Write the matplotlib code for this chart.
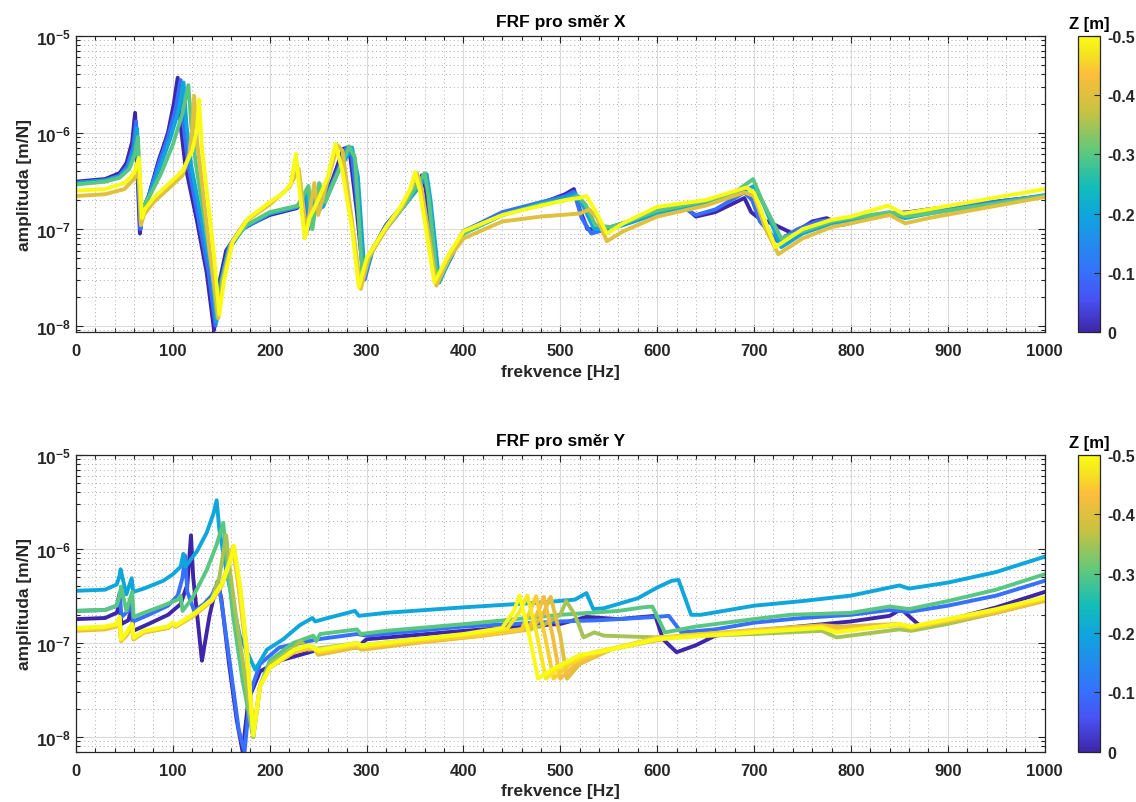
import matplotlib
matplotlib.use("Agg")
import matplotlib.pyplot as plt
from matplotlib.colors import LinearSegmentedColormap, Normalize
from matplotlib.cm import ScalarMappable
from matplotlib.ticker import MultipleLocator, LogLocator, NullFormatter

plt.rcParams['font.family'] = ['Liberation Sans', 'DejaVu Sans']
plt.rcParams['mathtext.fontset'] = 'custom'
plt.rcParams['mathtext.rm'] = 'Liberation Sans'
plt.rcParams['mathtext.bf'] = 'Liberation Sans:bold'
plt.rcParams['axes.unicode_minus'] = False

# amplitudy jsou zapsany v jednotkach 1e-7 m/N
AMP_UNIT = 1e-7

# ---- FRF pro smer X ----
z_x = [0.0, -0.1, -0.2, -0.3, -0.4, -0.5]

fx0 = [0, 30, 45, 52, 58, 61, 63, 66, 68, 75, 85, 95, 101, 105, 108, 113, 125, 135, 142.5, 147, 155,
       170, 200, 228, 236, 239, 245, 250, 265, 276, 282, 290, 297, 305, 320, 340, 350, 357, 361, 367, 373,
       385, 400, 440, 480, 505, 514, 520, 528, 545, 565, 600, 630, 640, 660, 690, 697, 705, 722, 740, 760,
       775, 790, 840, 860, 880, 1000]
ax0 = [3.1, 3.3, 3.8, 4.8, 8.0, 16, 5.0, 0.9, 1.5, 2.2, 5.0, 10, 20, 37, 12, 4.5, 1.2, 0.35, 0.09, 0.25, 0.6,
       1.0, 1.4, 1.65, 2.0, 1.0, 1.9, 1.5, 3.3, 6.8, 7.0, 1.5, 0.3, 0.58, 1.1, 1.9, 2.6, 3.6, 2.6, 0.6, 0.3,
       0.5, 0.95, 1.45, 1.85, 2.3, 2.6, 1.6, 1.0, 1.0, 1.15, 1.5, 1.65, 1.35, 1.5, 2.1, 1.5, 1.3, 1.1, 0.9, 1.2,
       1.3, 1.1, 1.45, 1.5, 1.6, 2.2]

fx1 = [0, 30, 45, 53, 59, 62, 64, 66.5, 68.5, 75, 85, 95, 103, 108, 111, 116, 127, 137, 144, 149, 157,
       172, 200, 228, 237, 240, 247, 252, 268, 279, 284, 292, 298, 306, 320, 340, 352, 359, 363, 369, 375,
       387, 400, 440, 480, 505, 514, 522, 532, 548, 565, 600, 630, 640, 660, 690, 698, 706, 724, 745, 765,
       778, 792, 840, 856, 880, 1000]
ax1 = [3.0, 3.2, 3.6, 4.5, 7.0, 13, 4.0, 1.0, 1.5, 2.2, 4.6, 9.0, 18, 35, 12, 4.5, 1.2, 0.35, 0.1, 0.25, 0.6,
       1.0, 1.45, 1.7, 2.2, 1.0, 2.1, 1.6, 3.6, 7.0, 6.8, 1.3, 0.3, 0.6, 1.1, 1.9, 2.6, 3.6, 2.5, 0.6, 0.3,
       0.5, 0.95, 1.5, 1.9, 2.2, 2.45, 1.3, 0.9, 1.0, 1.15, 1.5, 1.6, 1.4, 1.6, 2.4, 2.0, 1.2, 0.75, 1.0, 1.2,
       1.25, 1.15, 1.45, 1.45, 1.6, 2.2]

fx2 = [0, 30, 45, 54, 60, 63, 65, 67, 69, 76, 86, 97, 106, 111, 114, 119, 130, 140, 145, 150, 158,
       174, 200, 228, 238, 242, 249, 255, 270, 285, 291, 298, 306, 320, 340, 355, 362, 366, 375, 390, 400,
       440, 480, 505, 516, 524, 535, 550, 565, 600, 650, 680, 700, 710, 728, 750, 780, 800, 840, 856, 880,
       1000]
ax2 = [3.0, 3.2, 3.5, 4.3, 6.5, 11, 3.5, 1.2, 1.6, 2.3, 4.2, 8.5, 17, 33, 12, 4.5, 1.2, 0.35, 0.11, 0.3, 0.65,
       1.05, 1.45, 1.7, 2.4, 1.1, 2.6, 1.7, 3.8, 7.0, 3.5, 0.33, 0.6, 1.0, 1.8, 2.8, 3.7, 2.0, 0.28, 0.6, 0.9,
       1.4, 1.85, 2.1, 2.3, 1.7, 1.0, 1.0, 1.1, 1.45, 1.85, 2.2, 2.8, 1.8, 0.65, 0.9, 1.15, 1.25, 1.45, 1.3, 1.45,
       2.25]

fx3 = [0, 30, 45, 55, 61, 64, 66, 67.5, 70, 77, 88, 100, 110, 116, 119, 124, 133, 141, 146, 151, 160,
       176, 200, 229, 240, 244, 251, 257, 272, 282, 288, 296, 305, 320, 340, 355, 360, 364, 373, 390, 400,
       440, 480, 505, 518, 526, 536, 552, 570, 600, 650, 680, 699, 708, 728, 750, 780, 800, 840, 856, 880,
       1000]
ax3 = [2.9, 3.1, 3.4, 4.2, 6.0, 9.0, 3.0, 1.3, 1.7, 2.3, 3.8, 7.5, 16, 31, 12, 4.5, 1.2, 0.35, 0.12, 0.3, 0.7,
       1.1, 1.5, 1.75, 2.8, 1.0, 3.0, 1.9, 4.2, 7.2, 5.5, 0.3, 0.6, 1.05, 1.8, 3.2, 3.8, 2.2, 0.28, 0.6, 0.9,
       1.4, 1.8, 2.0, 2.2, 1.8, 1.1, 1.05, 1.2, 1.55, 1.95, 2.4, 3.3, 2.0, 0.8, 0.95, 1.2, 1.3, 1.5, 1.35, 1.45,
       2.2]

fx4 = [0, 30, 50, 60, 64, 65.5, 67, 70, 80, 95, 110, 117, 120, 122, 125, 130, 138, 147, 152, 160, 175,
       200, 220, 230, 238, 246, 250, 262, 270, 275, 285, 294, 302, 320, 335, 346, 352, 357, 372, 385, 400,
       440, 480, 520, 530, 538, 548, 565, 600, 650, 690, 700, 712, 725, 750, 780, 800, 840, 856, 880, 1000]
ax4 = [2.2, 2.3, 2.6, 3.3, 4.2, 2.5, 1.1, 1.4, 1.9, 2.6, 3.6, 6.0, 11, 24, 8.0, 3.0, 0.6, 0.12, 0.3, 0.7, 1.2,
       1.8, 2.7, 4.2, 0.9, 3.0, 1.4, 3.8, 7.4, 6.5, 1.2, 0.24, 0.5, 1.0, 1.6, 2.6, 3.8, 2.6, 0.26, 0.5, 0.8,
       1.2, 1.35, 1.45, 1.6, 1.3, 0.75, 0.95, 1.35, 1.75, 2.4, 2.2, 1.0, 0.55, 0.8, 1.05, 1.15, 1.4, 1.15, 1.3, 2.15]

fx5 = [0, 30, 50, 60, 65, 66.5, 68, 71, 80, 95, 110, 120, 125, 127, 130, 135, 142, 148, 153, 162, 178,
       200, 215, 222, 227, 236, 241, 250, 260, 268, 275, 285, 292, 300, 320, 335, 345, 350, 355, 370, 385,
       400, 440, 480, 505, 520, 527, 537, 548, 565, 600, 650, 692, 700, 722, 750, 780, 800, 838, 854, 880,
       1000]
ax5 = [2.5, 2.6, 3.0, 3.8, 5.5, 2.8, 1.3, 1.6, 2.1, 2.9, 4.0, 6.5, 11, 22, 7.0, 2.5, 0.6, 0.13, 0.3, 0.75, 1.3,
       1.9, 2.4, 3.0, 6.0, 0.8, 1.3, 2.0, 3.5, 7.6, 4.0, 1.0, 0.25, 0.5, 1.05, 1.7, 2.6, 3.9, 2.5, 0.28, 0.55,
       0.95, 1.4, 1.75, 2.0, 2.1, 2.2, 1.5, 0.9, 1.15, 1.7, 2.0, 2.7, 2.4, 0.65, 1.0, 1.25, 1.35, 1.75, 1.45, 1.6,
       2.6]

# ---- FRF pro smer Y ----
z_y = [0.0, -0.1, -0.2, -0.3, -0.35, -0.4, -0.425, -0.45, -0.475, -0.5]

fy0 = [0, 30, 42, 45, 47, 54, 57.5, 59, 75, 95, 108, 115, 118.7, 121, 130, 138, 146, 150, 158, 166,
       172, 178, 190, 210, 250, 290, 300, 400, 500, 527, 560, 598, 606, 620, 640, 660, 700, 760, 800, 840,
       852, 872, 900, 950, 1000]
ay0 = [1.8, 1.85, 2.1, 2.6, 1.6, 1.75, 2.3, 1.35, 1.6, 2.0, 2.6, 4.2, 14, 5.0, 0.65, 2.0, 4.5, 3.0, 0.6, 0.15,
       0.07, 0.25, 0.5, 0.65, 0.85, 0.9, 1.1, 1.35, 1.6, 1.9, 1.8, 1.95, 1.1, 0.8, 0.95, 1.2, 1.35, 1.55, 1.7, 1.95,
       2.3, 1.5, 1.75, 2.4, 3.5]

fy1 = [0, 30, 42, 45, 47, 54, 57.5, 59, 75, 95, 105, 110, 112.5, 115, 122, 132, 140, 147, 152, 160,
       168, 174, 180, 190, 210, 250, 290, 300, 400, 500, 540, 600, 612, 625, 660, 700, 750, 800, 840, 860,
       900, 950, 1000]
ay1 = [2.2, 2.25, 2.5, 3.4, 1.9, 2.2, 3.0, 1.7, 2.0, 2.5, 3.2, 5.0, 8.5, 3.5, 2.2, 2.6, 3.2, 4.5, 2.0, 0.5,
       0.12, 0.07, 0.3, 0.6, 0.9, 1.1, 1.25, 1.2, 1.5, 1.7, 1.75, 1.9, 1.95, 1.3, 1.4, 1.65, 1.85, 2.0, 2.25, 2.15,
       2.5, 3.2, 4.6]

fy2 = [0, 30, 42, 45, 46, 52, 57.5, 59, 70, 90, 100, 108, 110.8, 113, 125, 135, 142, 145.2, 148, 155,
       169, 185, 197, 214, 231, 244, 247, 260, 288, 292, 320, 400, 480, 515, 527, 534, 545, 580, 600, 615,
       622, 635, 645, 700, 750, 800, 850, 860, 900, 950, 1000]
ay2 = [3.6, 3.7, 4.2, 5.2, 6.1, 3.3, 4.9, 3.5, 3.8, 4.6, 5.4, 6.5, 8.9, 6.5, 9.5, 15, 24, 33, 16, 6.0,
       1.2, 0.52, 0.85, 1.1, 1.55, 1.85, 1.7, 1.85, 2.2, 1.95, 2.1, 2.4, 2.7, 2.9, 3.4, 2.3, 2.35, 3.0, 3.9, 4.6,
       4.7, 2.0, 2.0, 2.5, 2.8, 3.2, 4.1, 3.8, 4.4, 5.7, 8.3]

fy3 = [0, 30, 42, 45, 46.5, 52, 58, 59.5, 70, 90, 105, 108, 110, 120, 135, 145, 152, 155, 162, 172,
       183, 190, 200, 224, 245, 248, 252, 283, 290, 294, 320, 403, 500, 560, 585, 595, 608, 640, 700, 737,
       800, 840, 860, 900, 950, 1000]
ay3 = [2.2, 2.25, 2.5, 3.2, 4.0, 2.2, 3.5, 1.9, 2.1, 2.5, 2.9, 3.2, 2.2, 3.0, 6.0, 11, 19, 9.0, 2.0, 0.4,
       0.1, 0.35, 0.65, 1.0, 1.2, 1.05, 1.25, 1.37, 1.4, 1.25, 1.35, 1.6, 2.0, 2.2, 2.4, 2.45, 1.3, 1.5, 1.8, 2.0,
       2.1, 2.45, 2.3, 2.8, 3.7, 5.4]

fy4 = [0, 30, 42, 45, 46.5, 52, 58, 59.5, 70, 95, 100, 103, 120, 140, 148, 155, 158, 165, 175, 183,
       190, 200, 225, 232, 240, 290, 295, 350, 420, 480, 500, 506, 515, 524, 535, 545, 600, 700, 770, 785,
       850, 862, 900, 950, 1000]
ay4 = [1.4, 1.45, 1.55, 1.85, 1.1, 1.25, 1.55, 1.1, 1.3, 1.45, 1.6, 1.5, 1.95, 2.9, 5.0, 14, 7.0, 2.0, 0.4, 0.1,
       0.35, 0.6, 0.9, 1.05, 0.85, 1.0, 0.95, 1.1, 1.25, 1.5, 2.0, 2.8, 2.0, 1.15, 1.3, 1.2, 1.15, 1.25, 1.35, 1.15,
       1.4, 1.35, 1.6, 2.1, 2.9]

fy5 = [0, 30, 42, 45, 46.5, 52, 58, 59.5, 70, 95, 100, 103, 120, 140, 150, 158, 162, 168, 176, 183,
       190, 200, 225, 245, 250, 290, 295, 350, 420, 470, 482, 490, 500, 507, 520, 554, 623, 727, 770, 790,
       850, 862, 900, 950, 1000]
ay5 = [1.35, 1.4, 1.5, 1.8, 1.05, 1.2, 1.5, 1.1, 1.3, 1.45, 1.6, 1.5, 1.9, 2.8, 4.0, 7.0, 10.5, 4.0, 0.8, 0.11,
       0.35, 0.55, 0.8, 0.9, 0.75, 0.9, 0.85, 1.0, 1.2, 1.4, 2.0, 3.1, 1.2, 0.42, 0.6, 0.87, 1.2, 1.45, 1.55, 1.5,
       1.6, 1.45, 1.7, 2.1, 2.8]

fy6 = [0, 30, 42, 45, 46.5, 52, 58, 59.5, 70, 95, 100, 103, 120, 140, 150, 158, 162, 168, 176, 183,
       190, 200, 225, 245, 250, 290, 295, 350, 420, 466, 476, 483, 492, 500, 515, 550, 620, 727, 770, 790,
       850, 862, 900, 950, 1000]
ay6 = [1.38, 1.42, 1.52, 1.82, 1.06, 1.22, 1.52, 1.1, 1.3, 1.46, 1.6, 1.5, 1.92, 2.8, 4.1, 7.2, 10.6, 3.9, 0.78, 0.11,
       0.35, 0.55, 0.8, 0.9, 0.78, 0.92, 0.88, 1.02, 1.2, 1.4, 2.05, 3.1, 1.2, 0.42, 0.58, 0.85, 1.18, 1.42, 1.52, 1.42,
       1.58, 1.45, 1.72, 2.15, 2.85]

fy7 = [0, 30, 42, 45, 46.5, 52, 58, 59.5, 70, 95, 100, 103, 120, 140, 151, 159, 162.5, 169, 177, 183,
       190, 200, 225, 245, 250, 290, 295, 350, 420, 460, 468, 475, 484, 493, 510, 540, 600, 700, 770, 785,
       850, 862, 900, 950, 1000]
ay7 = [1.4, 1.45, 1.55, 1.85, 1.08, 1.25, 1.55, 1.12, 1.32, 1.48, 1.62, 1.52, 1.95, 2.85, 4.2, 7.5, 10.7, 3.8, 0.75, 0.105,
       0.35, 0.55, 0.82, 0.92, 0.8, 0.95, 0.9, 1.05, 1.22, 1.4, 2.1, 3.15, 1.2, 0.42, 0.6, 0.8, 1.15, 1.35, 1.5, 1.35,
       1.55, 1.45, 1.75, 2.2, 2.95]

fy8 = [0, 30, 42, 45, 46.5, 52, 58, 59.5, 70, 95, 100, 103, 120, 140, 151, 160, 163, 170, 177, 183,
       190, 200, 225, 240, 250, 290, 295, 350, 400, 445, 458, 466, 476, 485, 502, 530, 600, 700, 770, 785,
       850, 862, 900, 950, 1000]
ay8 = [1.42, 1.48, 1.58, 1.88, 1.1, 1.28, 1.58, 1.14, 1.34, 1.5, 1.64, 1.54, 1.98, 2.9, 4.4, 7.8, 10.8, 3.6, 0.72, 0.105,
       0.35, 0.55, 0.84, 0.94, 0.82, 0.98, 0.92, 1.08, 1.22, 1.42, 2.15, 3.2, 1.2, 0.42, 0.58, 0.78, 1.12, 1.32, 1.48, 1.32,
       1.58, 1.48, 1.78, 2.25, 3.0]

fy9 = [0, 30, 42, 45, 46.5, 52, 58, 59.5, 70, 95, 100, 103, 120, 140, 152, 160, 163, 170, 177, 183,
       190, 200, 225, 240, 250, 290, 295, 350, 400, 440, 452, 458, 468, 477, 495, 520, 540, 600, 700, 770,
       785, 850, 862, 900, 950, 1000]
ay9 = [1.45, 1.5, 1.6, 1.9, 1.1, 1.3, 1.6, 1.15, 1.35, 1.5, 1.65, 1.55, 2.0, 2.9, 4.5, 8.0, 10.8, 3.5, 0.7, 0.105,
       0.35, 0.55, 0.85, 0.95, 0.85, 1.0, 0.95, 1.1, 1.25, 1.45, 2.2, 3.2, 1.2, 0.42, 0.55, 0.75, 0.8, 1.1, 1.3, 1.45,
       1.3, 1.6, 1.5, 1.8, 2.3, 3.06]

curves_x = [(fx0, ax0), (fx1, ax1), (fx2, ax2), (fx3, ax3), (fx4, ax4), (fx5, ax5)]
curves_y = [(fy0, ay0), (fy1, ay1), (fy2, ay2), (fy3, ay3), (fy4, ay4),
            (fy5, ay5), (fy6, ay6), (fy7, ay7), (fy8, ay8), (fy9, ay9)]

# parula (MATLAB R2014a) - vybrane body
parula_pts = [(0.2422, 0.1504, 0.6603), (0.2810, 0.3228, 0.9579), (0.2052, 0.4468, 0.9883),
              (0.1356, 0.5478, 0.9312), (0.0589, 0.6493, 0.8664), (0.0704, 0.7434, 0.7240),
              (0.3977, 0.7852, 0.4711), (0.7839, 0.7601, 0.2566), (0.9937, 0.7425, 0.2365),
              (0.9598, 0.8873, 0.1253), (0.9769, 0.9839, 0.0805)]
parula_pos = [0.0, 0.111, 0.206, 0.302, 0.397, 0.492, 0.619, 0.746, 0.873, 0.937, 1.0]
parula = LinearSegmentedColormap.from_list('parula', list(zip(parula_pos, parula_pts)))

TXT = '0.15'
Z_MAX = 0.5


def style_axes(ax, title, ymin):
    ax.set_yscale('log')
    ax.set_xlim(0, 1000)
    ax.set_ylim(ymin, 1e-5)
    ax.set_axisbelow(True)
    ax.xaxis.set_major_locator(MultipleLocator(100))
    ax.xaxis.set_minor_locator(MultipleLocator(20))
    ax.set_yticks([1e-8, 1e-7, 1e-6, 1e-5])
    ax.set_yticklabels([r'$\mathbf{10^{-8}}$', r'$\mathbf{10^{-7}}$',
                        r'$\mathbf{10^{-6}}$', r'$\mathbf{10^{-5}}$'], fontsize=12.5)
    ax.yaxis.set_minor_locator(LogLocator(base=10, subs=range(2, 10)))
    ax.yaxis.set_minor_formatter(NullFormatter())
    ax.grid(True, which='major', color='0.86', lw=0.8, ls='-')
    ax.grid(True, which='minor', color='0.68', lw=0.7, ls=(0, (1, 3)))
    ax.tick_params(which='both', direction='in', top=True, right=True, colors=TXT, width=0.8)
    ax.tick_params(axis='x', labelsize=12, pad=8)
    ax.tick_params(which='major', length=5)
    ax.tick_params(which='minor', length=3)
    for lab in ax.get_xticklabels():
        lab.set_fontweight('bold')
    for sp in ax.spines.values():
        sp.set_color(TXT)
        sp.set_linewidth(0.9)
    ax.set_title(title, fontsize=12.5, fontweight='bold', pad=7)
    ax.set_xlabel('frekvence [Hz]', fontsize=12.5, fontweight='bold', color=TXT, labelpad=4)
    ax.set_ylabel('amplituda [m/N]', fontsize=12.5, fontweight='bold', color=TXT, labelpad=3)


def draw_curves(ax, curves, zs):
    for (f, a), z in zip(curves, zs):
        col = parula(-z / Z_MAX)
        ax.plot(f, [v * AMP_UNIT for v in a], color=col, lw=2.8, solid_joinstyle='round')


def add_colorbar(fig, rect):
    cax = fig.add_axes(rect)
    sm = ScalarMappable(norm=Normalize(0, Z_MAX), cmap=parula)
    cb = fig.colorbar(sm, cax=cax)
    cb.set_ticks([0, 0.1, 0.2, 0.3, 0.4, 0.5])
    cb.set_ticklabels(['0', '-0.1', '-0.2', '-0.3', '-0.4', '-0.5'])
    cb.ax.tick_params(direction='in', length=4, colors=TXT, labelsize=11.5, width=0.8, pad=5)
    for lab in cb.ax.get_yticklabels():
        lab.set_fontweight('bold')
    cb.outline.set_edgecolor(TXT)
    cb.outline.set_linewidth(0.9)
    cax.set_title('Z [m]', fontsize=12, fontweight='bold', pad=6)


fig = plt.figure(figsize=(11.36, 8.03), dpi=100)

ax_x = fig.add_axes([0.0669, 0.5853, 0.8527, 0.3686])
draw_curves(ax_x, curves_x, z_x)
style_axes(ax_x, 'FRF pro směr X', 8.6e-9)
add_colorbar(fig, [0.9489, 0.5853, 0.0194, 0.3686])

ax_y = fig.add_axes([0.0669, 0.0626, 0.8527, 0.3695])
draw_curves(ax_y, curves_y, z_y)
style_axes(ax_y, 'FRF pro směr Y', 7.0e-9)
add_colorbar(fig, [0.9489, 0.0626, 0.0194, 0.3695])

fig.savefig('out.png', dpi=100)
